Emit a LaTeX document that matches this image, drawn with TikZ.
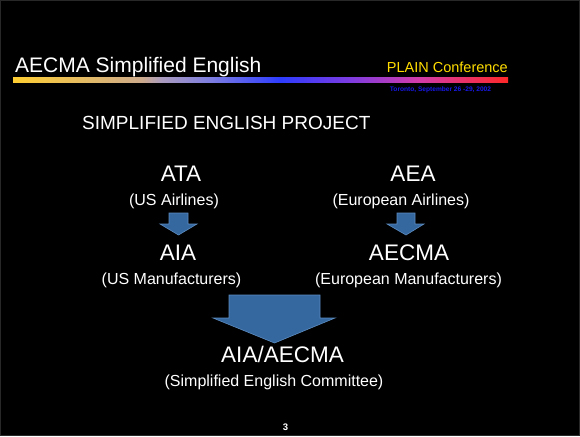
\documentclass[tikz,border=0pt]{standalone}
\usepackage{fontspec}
\setmainfont{Liberation Sans}
\definecolor{arrowfill}{RGB}{54,104,160}
\definecolor{arrowline}{RGB}{92,140,192}
\definecolor{plainyellow}{RGB}{255,221,0}
\definecolor{torontoblue}{RGB}{25,25,235}
\definecolor{frame}{RGB}{40,40,40}
\definecolor{ga}{RGB}{255,206,50}
\definecolor{gb}{RGB}{205,170,140}
\definecolor{gc}{RGB}{170,155,190}
\definecolor{gd}{RGB}{125,125,225}
\definecolor{ge}{RGB}{45,60,255}
\definecolor{gf}{RGB}{125,60,225}
\definecolor{gg}{RGB}{210,60,170}
\definecolor{gh}{RGB}{255,40,40}
\pgfdeclarehorizontalshading{titlebar}{100bp}{color(0bp)=(ga); color(25bp)=(ga); color(38bp)=(gb); color(40bp)=(gc); color(45bp)=(gd); color(52bp)=(ge); color(59bp)=(gf); color(66bp)=(gg); color(75bp)=(gh); color(100bp)=(gh)}
\tikzset{
  txt/.style={text=white, inner sep=0pt, anchor=base},
  bigtxt/.style={txt, font=\fontsize{22.5}{26}\selectfont},
  subtxt/.style={txt, font=\fontsize{16}{19}\selectfont},
  blockarrow/.style={fill=arrowfill, draw=arrowline, line width=0.6pt, line join=miter}
}
\begin{document}
\begin{tikzpicture}[x=1pt, y=-1pt]
  \fill[black] (0,0) rectangle (580,436);
  \draw[frame, line width=1pt] (0.5,0.5) rectangle (579.5,435.5);
  \useasboundingbox (0,0) rectangle (580,436);

  % header
  \node[txt, anchor=base west, font=\fontsize{21}{24}\selectfont] (title) at (15,72) {AECMA Simplified English};
  \node[txt, anchor=base east, text=plainyellow, font=\fontsize{14.5}{17}\selectfont] (plain) at (508,72) {PLAIN Conference};
  \fill[shading=titlebar] (13,77) rectangle (508,82);
  \node[txt, text=torontoblue, font=\fontsize{6.6}{8}\selectfont\bfseries] (toronto) at (440.5,91.5) {Toronto, September 26 -29, 2002};

  % heading
  \node[txt, anchor=base west, font=\fontsize{19}{22}\selectfont] (project) at (82,129) {SIMPLIFIED ENGLISH PROJECT};

  % left column
  \node[bigtxt] (ata) at (181,181) {ATA};
  \node[subtxt] (usair) at (174,205) {(US Airlines)};
  \node[bigtxt] (aia) at (178,260) {AIA};
  \node[subtxt] (usman) at (171.5,284.5) {(US Manufacturers)};

  % right column
  \node[bigtxt] (aea) at (413,181) {AEA};
  \node[subtxt] (euair) at (401,205) {(European Airlines)};
  \node[bigtxt] (aecma) at (409,260) {AECMA};
  \node[subtxt] (euman) at (408.5,284.5) {(European Manufacturers)};

  % result
  \node[bigtxt] (joint) at (282.5,362) {AIA/AECMA};
  \node[subtxt] (committee) at (274,386) {(Simplified English Committee)};

  % page number
  \node[txt, font=\fontsize{9.5}{11}\selectfont\bfseries] (page) at (285.5,430) {3};

  % block arrows
  \draw[blockarrow] (169,213) -- (188,213) -- (188,224) -- (197,224) -- (178.5,235) -- (160,224) -- (169,224) -- cycle;
  \draw[blockarrow] (397,213) -- (415,213) -- (415,224) -- (424,224) -- (406,235) -- (387,224) -- (397,224) -- cycle;
  \draw[blockarrow] (229,295) -- (320,295) -- (320,318) -- (335,318) -- (274.5,343) -- (213,318) -- (229,318) -- cycle;
\end{tikzpicture}
\end{document}
